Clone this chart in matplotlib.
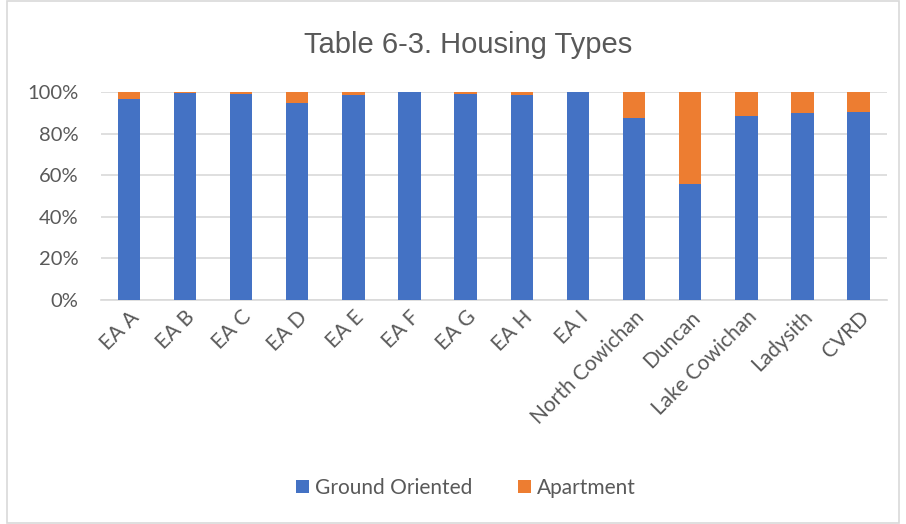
import matplotlib.pyplot as plt
from matplotlib.patches import Rectangle
from matplotlib.ticker import PercentFormatter

categories = ["EA A", "EA B", "EA C", "EA D", "EA E", "EA F", "EA G", "EA H", "EA I",
              "North Cowichan", "Duncan", "Lake Cowichan", "Ladysith", "CVRD"]
ground = [96.6, 99.5, 99.2, 94.7, 98.7, 99.8, 99.2, 98.7, 99.8,
          87.5, 55.6, 88.6, 89.8, 90.4]
apartment = [100 - g for g in ground]

blue = "#4472C4"
orange = "#ED7D31"
txt = "#595959"
grid = "#D9D9D9"

fig = plt.figure(figsize=(9.06, 5.24), dpi=100)
ax = fig.add_axes([100.7 / 906, 1 - 300 / 524, 786 / 906, 208 / 524])

x = range(len(categories))
ax.bar(x, ground, 0.4, color=blue, label="Ground Oriented", zorder=3)
ax.bar(x, apartment, 0.4, bottom=ground, color=orange, label="Apartment", zorder=3)

ax.set_xlim(-0.5, len(categories) - 0.5)
ax.set_ylim(0, 100)
ax.set_yticks([0, 20, 40, 60, 80, 100])
ax.yaxis.set_major_formatter(PercentFormatter(decimals=0))
ax.grid(axis="y", color=grid, linewidth=1.2, zorder=0)
for s in ["top", "right", "left"]:
    ax.spines[s].set_visible(False)
ax.spines["bottom"].set_color(grid)
ax.spines["bottom"].set_linewidth(1.2)
ax.tick_params(length=0, colors=txt, labelsize=15)
ax.tick_params(axis="y", pad=16, labelsize=14.5)
ax.tick_params(axis="x", pad=5)
ax.set_xticks(list(x))
ax.set_xticklabels(categories, rotation=45, ha="right", rotation_mode="anchor",
                   fontfamily="Lato")
for lab in ax.get_yticklabels():
    lab.set_fontfamily("Lato")

fig.text(468 / 906, 1 - 45 / 524, "Table 6-3. Housing Types", ha="center", va="center",
         fontsize=21, color=txt, family="Liberation Sans")

fig.legend(loc="center", bbox_to_anchor=(466 / 906, 1 - 488 / 524), ncol=2, frameon=False,
           prop={"family": "Lato", "size": 15}, labelcolor=txt, handlelength=0.6,
           handleheight=0.6, handletextpad=0.3, columnspacing=2.2)

fig.patches.append(Rectangle((7 / 906, 0.002), 1 - 14 / 906, 0.996, transform=fig.transFigure,
                             fill=False, edgecolor=grid, linewidth=1.2))

fig.savefig("out.png", dpi=100)
